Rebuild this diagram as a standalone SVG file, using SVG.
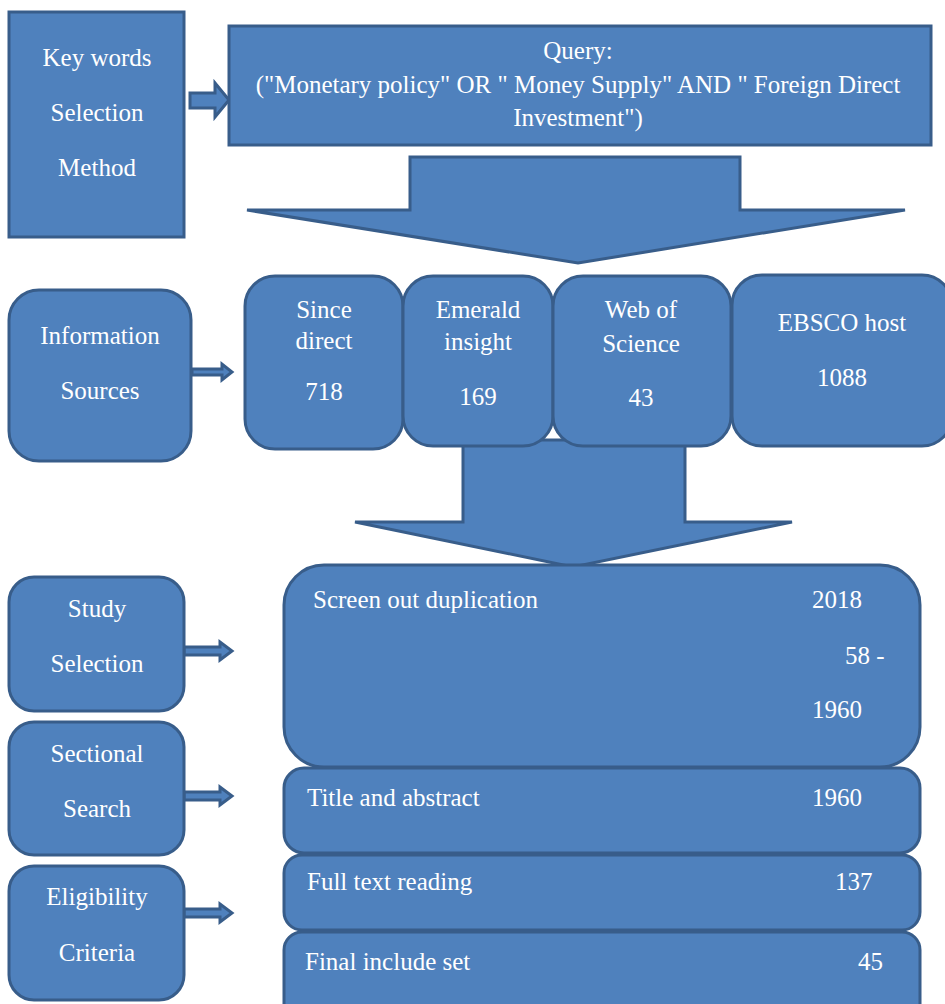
<svg xmlns="http://www.w3.org/2000/svg" width="945" height="1004" viewBox="0 0 945 1004">
<rect width="945" height="1004" fill="#FFFFFF"/>
<g id="connectors" fill="#4F81BD" stroke="#385D8A" stroke-width="3">
<path d="M190,93 H215 V83 L229,100 L215,117 V108 H190 Z"/>
<path d="M410,157 H740 V210 H905 L578,263 L247,210 H410 Z"/>
<path d="M192,369 H222 V364 L232,372 L222,380 V375 H192 Z"/>
<path d="M184,647 H220 V642 L232,651 L220,660 V655 H184 Z"/>
<path d="M184,792 H220 V787 L232,796 L220,805 V800 H184 Z"/>
<path d="M184,909 H220 V904 L232,913 L220,922 V917 H184 Z"/>
</g>
<g id="keywords">
<rect fill="#4F81BD" stroke="#385D8A" stroke-width="3" x="9" y="12" width="175" height="225"/>
<text font-family="Liberation Serif" font-size="25" fill="#FFFFFF" text-anchor="middle" x="97" y="66">Key words</text>
<text font-family="Liberation Serif" font-size="25" fill="#FFFFFF" text-anchor="middle" x="97" y="121">Selection</text>
<text font-family="Liberation Serif" font-size="25" fill="#FFFFFF" text-anchor="middle" x="97" y="176">Method</text>
</g>
<g id="query">
<rect fill="#4F81BD" stroke="#385D8A" stroke-width="3" x="229" y="26" width="702" height="119"/>
<text font-family="Liberation Serif" font-size="25" fill="#FFFFFF" text-anchor="middle" x="578" y="59">Query:</text>
<text font-family="Liberation Serif" font-size="25" fill="#FFFFFF" text-anchor="middle" x="578" y="93">("Monetary policy" OR " Money Supply" AND " Foreign Direct</text>
<text font-family="Liberation Serif" font-size="25" fill="#FFFFFF" text-anchor="middle" x="578" y="126">Investment")</text>
</g>
<g id="arrow2">
<path fill="#4F81BD" stroke="#385D8A" stroke-width="3" d="M463,440 H685 V522 H792 L573,567 L355,522 H463 Z"/>
</g>
<g id="info">
<rect fill="#4F81BD" stroke="#385D8A" stroke-width="3" x="9" y="290" width="182" height="171" rx="30"/>
<text font-family="Liberation Serif" font-size="25" fill="#FFFFFF" text-anchor="middle" x="100" y="344">Information</text>
<text font-family="Liberation Serif" font-size="25" fill="#FFFFFF" text-anchor="middle" x="100" y="399">Sources</text>
</g>
<g id="since">
<rect fill="#4F81BD" stroke="#385D8A" stroke-width="3" x="245" y="276" width="158" height="173" rx="30"/>
<text font-family="Liberation Serif" font-size="25" fill="#FFFFFF" text-anchor="middle" x="324" y="318">Since</text>
<text font-family="Liberation Serif" font-size="25" fill="#FFFFFF" text-anchor="middle" x="324" y="349">direct</text>
<text font-family="Liberation Serif" font-size="25" fill="#FFFFFF" text-anchor="middle" x="324" y="400">718</text>
</g>
<g id="emerald">
<rect fill="#4F81BD" stroke="#385D8A" stroke-width="3" x="403" y="276" width="150" height="170" rx="30"/>
<text font-family="Liberation Serif" font-size="25" fill="#FFFFFF" text-anchor="middle" x="478" y="318">Emerald</text>
<text font-family="Liberation Serif" font-size="25" fill="#FFFFFF" text-anchor="middle" x="478" y="350">insight</text>
<text font-family="Liberation Serif" font-size="25" fill="#FFFFFF" text-anchor="middle" x="478" y="405">169</text>
</g>
<g id="wos">
<rect fill="#4F81BD" stroke="#385D8A" stroke-width="3" x="553" y="276" width="178" height="170" rx="30"/>
<text font-family="Liberation Serif" font-size="25" fill="#FFFFFF" text-anchor="middle" x="641" y="318">Web of</text>
<text font-family="Liberation Serif" font-size="25" fill="#FFFFFF" text-anchor="middle" x="641" y="352">Science</text>
<text font-family="Liberation Serif" font-size="25" fill="#FFFFFF" text-anchor="middle" x="641" y="406">43</text>
</g>
<g id="ebsco">
<rect fill="#4F81BD" stroke="#385D8A" stroke-width="3" x="732" y="275" width="220" height="171" rx="30"/>
<text font-family="Liberation Serif" font-size="25" fill="#FFFFFF" text-anchor="middle" x="842" y="331">EBSCO host</text>
<text font-family="Liberation Serif" font-size="25" fill="#FFFFFF" text-anchor="middle" x="842" y="386">1088</text>
</g>
<g id="screen">
<rect fill="#4F81BD" stroke="#385D8A" stroke-width="3" x="284" y="565" width="636" height="202" rx="40"/>
<text font-family="Liberation Serif" font-size="25" fill="#FFFFFF" x="313" y="608">Screen out duplication</text>
<text font-family="Liberation Serif" font-size="25" fill="#FFFFFF" x="812" y="608">2018</text>
<text font-family="Liberation Serif" font-size="25" fill="#FFFFFF" x="845" y="664">58 -</text>
<text font-family="Liberation Serif" font-size="25" fill="#FFFFFF" x="812" y="718">1960</text>
</g>
<g id="title">
<rect fill="#4F81BD" stroke="#385D8A" stroke-width="3" x="284" y="768" width="636" height="85" rx="20"/>
<text font-family="Liberation Serif" font-size="25" fill="#FFFFFF" x="307" y="806">Title and abstract</text>
<text font-family="Liberation Serif" font-size="25" fill="#FFFFFF" x="812" y="806">1960</text>
</g>
<g id="fulltext">
<rect fill="#4F81BD" stroke="#385D8A" stroke-width="3" x="284" y="855" width="636" height="75" rx="18"/>
<text font-family="Liberation Serif" font-size="25" fill="#FFFFFF" x="307" y="890">Full text reading</text>
<text font-family="Liberation Serif" font-size="25" fill="#FFFFFF" x="835" y="890">137</text>
</g>
<g id="final">
<rect fill="#4F81BD" stroke="#385D8A" stroke-width="3" x="284" y="932" width="636" height="90" rx="18"/>
<text font-family="Liberation Serif" font-size="25" fill="#FFFFFF" x="305" y="970">Final include set</text>
<text font-family="Liberation Serif" font-size="25" fill="#FFFFFF" x="858" y="970">45</text>
</g>
<g id="study">
<rect fill="#4F81BD" stroke="#385D8A" stroke-width="3" x="9" y="577" width="175" height="134" rx="25"/>
<text font-family="Liberation Serif" font-size="25" fill="#FFFFFF" text-anchor="middle" x="97" y="617">Study</text>
<text font-family="Liberation Serif" font-size="25" fill="#FFFFFF" text-anchor="middle" x="97" y="672">Selection</text>
</g>
<g id="sectional">
<rect fill="#4F81BD" stroke="#385D8A" stroke-width="3" x="9" y="722" width="175" height="133" rx="25"/>
<text font-family="Liberation Serif" font-size="25" fill="#FFFFFF" text-anchor="middle" x="97" y="762">Sectional</text>
<text font-family="Liberation Serif" font-size="25" fill="#FFFFFF" text-anchor="middle" x="97" y="817">Search</text>
</g>
<g id="eligibility">
<rect fill="#4F81BD" stroke="#385D8A" stroke-width="3" x="9" y="866" width="175" height="134" rx="25"/>
<text font-family="Liberation Serif" font-size="25" fill="#FFFFFF" text-anchor="middle" x="97" y="905">Eligibility</text>
<text font-family="Liberation Serif" font-size="25" fill="#FFFFFF" text-anchor="middle" x="97" y="961">Criteria</text>
</g>
</svg>
